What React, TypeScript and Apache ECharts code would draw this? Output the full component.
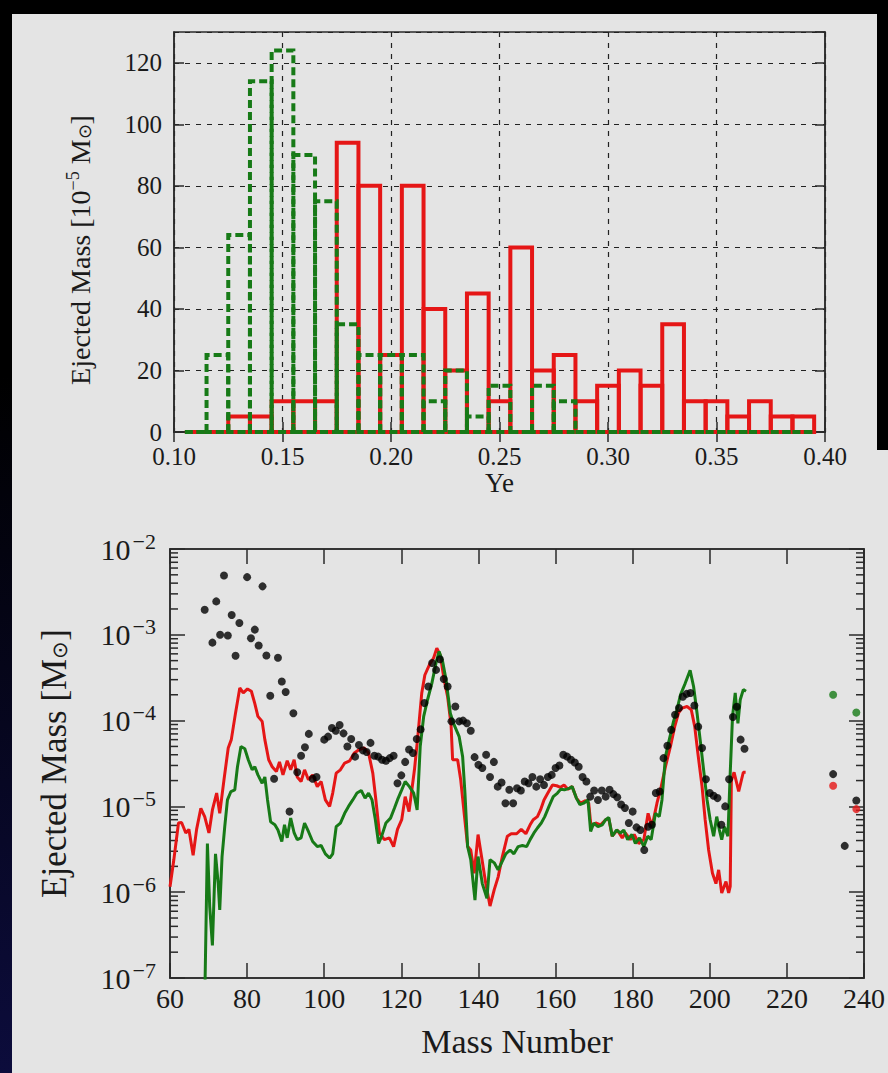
import React, { useEffect, useRef } from "react";
import * as echarts from "echarts";

// ---------- Top panel: ejected mass histogram vs Ye ----------
const yeBinCenters = [0.11, 0.12, 0.13, 0.14, 0.15, 0.16, 0.17, 0.18, 0.19, 0.2, 0.21, 0.22, 0.23, 0.24, 0.25, 0.26, 0.27, 0.28, 0.29, 0.3, 0.31, 0.32, 0.33, 0.34, 0.35, 0.36, 0.37, 0.38, 0.39];
const yeBinWidth = 0.01;
const redYeMass = [0, 0, 5, 5, 10, 10, 10, 94, 80, 25, 80, 40, 20, 45, 10, 60, 20, 25, 10, 15, 20, 15, 35, 10, 10, 5, 10, 5, 5];
const greenYeMass = [0, 25, 64, 114, 124, 90, 75, 35, 25, 25, 25, 10, 20, 5, 15, 0, 15, 10, 0, 0, 0, 0, 0, 0, 0, 0, 0, 0, 0];
const yeTicks = { min: 0.1, max: 0.4, interval: 0.05 };
const massTicks = { min: 0, max: 130, interval: 20 };

// ---------- Bottom panel: ejected mass vs mass number ----------
const redAbundance: [number, number][] = [
  [60, 1.16e-6], [61, 2.4e-6], [62.2, 6.4e-6], [63, 6.5e-6], [64.1, 4.9e-6], [64.9, 5.4e-6], [66, 2.7e-6], [66.9, 5.4e-6], [68, 9.5e-6], [69, 7.6e-6],
  [70.1, 4.9e-6], [71, 9.1e-6], [72.1, 1.43e-5], [72.9, 8.3e-6], [74, 2.04e-5], [75.1, 4.8e-5], [75.9, 6.0e-5], [77, 1.23e-4], [78.1, 2.4e-4], [79, 2.1e-4],
  [80.1, 2.34e-4], [81.1, 2.2e-4], [82, 1.58e-4], [82.8, 1.12e-4], [83.9, 9.8e-5], [84.6, 6.0e-5], [85.6, 3.5e-5], [86.5, 2.9e-5], [87.6, 2.55e-5], [88.4, 3.3e-5],
  [89.3, 2.33e-5], [90.4, 3.4e-5], [91.3, 2.67e-5], [92.2, 3.5e-5], [93, 2.2e-5], [94, 1.95e-5], [94.9, 2.67e-5], [95.9, 2.04e-5], [97, 2.33e-5], [98.2, 1.7e-5],
  [99.2, 1.95e-5], [100.3, 1.19e-5], [101.4, 1.0e-5], [102.2, 1.43e-5], [103.1, 2.44e-5], [104.2, 2.67e-5], [105.3, 3.2e-5], [106.6, 3.4e-5], [107.8, 4.2e-5], [109.1, 4.6e-5],
  [110.4, 4.8e-5], [111.5, 4.2e-5], [112.6, 2.44e-5], [113.4, 1.19e-5], [114.3, 4.9e-6], [115.6, 4.1e-6], [116.9, 4.3e-6], [118, 3.4e-6], [119, 5.4e-6], [120.1, 7.0e-6],
  [121, 1.3e-5], [122, 8.7e-6], [123.4, 2.67e-5], [124.2, 6.0e-5], [125.3, 2.1e-4], [126.1, 3.4e-4], [127.3, 4.5e-4], [128.4, 5.4e-4], [129.2, 7.0e-4], [130.1, 5.8e-4],
  [131.1, 3.0e-4], [132, 1.9e-4], [132.9, 8.9e-5], [133.3, 3.5e-5], [134.6, 3.5e-5], [135.4, 2.04e-5], [136.3, 8.3e-6], [137.2, 3.4e-6], [138, 3.1e-6], [138.9, 1.66e-6],
  [139.9, 4.7e-6], [140.8, 2.6e-6], [141.9, 1.26e-6], [143, 6.9e-7], [144.1, 1.07e-6], [145.1, 1.5e-6], [146.2, 2.6e-6], [147.5, 4.5e-6], [148.5, 4.8e-6], [149.9, 4.8e-6],
  [151.1, 5.4e-6], [152.3, 4.8e-6], [153.4, 6.1e-6], [154.2, 7.0e-6], [155.3, 7.6e-6], [156.1, 9.1e-6], [157, 1.19e-5], [158, 1.43e-5], [159.2, 1.78e-5], [160.3, 1.74e-5],
  [161.3, 1.67e-5], [162.2, 1.78e-5], [163.2, 1.58e-5], [164.3, 1.7e-5], [165.4, 1.25e-5], [166.5, 1.09e-5], [167.8, 1.17e-5], [168.6, 1.09e-5], [169.2, 5.75e-6], [170.4, 6.4e-6],
  [171.7, 6.1e-6], [173, 7.0e-6], [173.8, 7.2e-6], [174.7, 4.5e-6], [176, 5.3e-6], [177.3, 4.3e-6], [178.1, 4.9e-6], [179.4, 4.1e-6], [180.4, 4.7e-6], [181.6, 3.7e-6],
  [182.9, 4.1e-6], [184, 8.3e-6], [185, 5.8e-6], [186.3, 1.09e-5], [187.4, 1.7e-5], [188.5, 2.9e-5], [189.8, 5.0e-5], [190.9, 8.5e-5], [191.9, 1.23e-4], [192.8, 1.4e-4],
  [194.1, 1.46e-4], [195.2, 1.34e-4], [196.1, 8.5e-5], [196.9, 4.2e-5], [198, 1.7e-5], [198.8, 7.0e-6], [199.7, 3.1e-6], [200.7, 1.66e-6], [201.6, 1.26e-6], [202.3, 1.82e-6],
  [203.1, 9.8e-7], [204.2, 1.33e-6], [204.9, 9.8e-7], [205.3, 1.17e-6], [205.6, 2.0e-5], [206.3, 2.5e-5], [207.5, 1.5e-5], [208.7, 2.5e-5], [209.3, 2.5e-5],
];

const greenAbundance: [number, number][] = [
  [69, 5e-8], [69.7, 3.7e-6], [70.3, 6.8e-7], [71, 2.4e-7], [71.8, 2.8e-6], [72.5, 1.26e-6], [72.9, 6.2e-7], [73.5, 2.6e-6], [74.2, 5.8e-6], [74.9, 1.19e-5],
  [75.8, 1.49e-5], [76.8, 1.56e-5], [77.5, 2.9e-5], [78.4, 5.0e-5], [79.4, 4.7e-5], [80.3, 3.5e-5], [81.3, 2.67e-5], [82, 2.9e-5], [82.8, 2.33e-5], [83.9, 1.86e-5],
  [84.6, 2.2e-5], [85.3, 1.19e-5], [86.1, 6.6e-6], [87.2, 6.1e-6], [88, 5.3e-6], [89, 3.9e-6], [89.7, 6.1e-6], [90.4, 4.3e-6], [91.3, 7.3e-6], [92.2, 4.9e-6],
  [93, 4.1e-6], [94, 4.3e-6], [94.9, 6.4e-6], [95.9, 5.1e-6], [97, 3.9e-6], [98.2, 3.4e-6], [99.2, 3.5e-6], [100.3, 2.8e-6], [101.4, 2.5e-6], [102.2, 2.8e-6],
  [103.1, 5.8e-6], [104.2, 6.4e-6], [105.3, 8.3e-6], [106.3, 1.0e-5], [107.4, 1.19e-5], [108.5, 1.43e-5], [109.6, 1.53e-5], [110.6, 1.25e-5], [111.5, 1.43e-5], [112.4, 1.19e-5],
  [113.2, 7.3e-6], [114.1, 3.7e-6], [114.9, 4.5e-6], [116, 6.4e-6], [117.2, 7.3e-6], [118.2, 9.5e-6], [119, 1.19e-5], [120.1, 1.56e-5], [121, 1.95e-5], [122.1, 1.7e-5],
  [123.2, 1.43e-5], [124.1, 9.1e-6], [124.9, 5.0e-5], [125.8, 1.12e-4], [126.8, 1.75e-4], [127.9, 2.7e-4], [129, 4.7e-4], [129.8, 6.4e-4], [130.7, 4.9e-4], [131.6, 3.0e-4],
  [132.7, 1.22e-4], [133.7, 8.9e-5], [135, 6.5e-5], [135.9, 3.8e-5], [136.5, 1.43e-5], [137.2, 3.4e-6], [138, 2.4e-6], [139.1, 8.1e-7], [139.9, 2.6e-6], [141, 1.26e-6],
  [142.2, 8.5e-7], [143, 2.4e-6], [144.1, 2.2e-6], [145.1, 1.82e-6], [146.2, 2.3e-6], [147.1, 2.8e-6], [148.2, 3.1e-6], [149.2, 2.8e-6], [150.3, 3.4e-6], [151.4, 3.5e-6],
  [152.5, 3.4e-6], [153.4, 4.1e-6], [154.4, 4.9e-6], [155.3, 5.6e-6], [156.3, 6.4e-6], [157.2, 7.6e-6], [158.3, 1.0e-5], [159.4, 1.3e-5], [160.5, 1.43e-5], [161.3, 1.58e-5],
  [162.3, 1.56e-5], [163.5, 1.62e-5], [164.3, 1.7e-5], [165.4, 1.25e-5], [166.3, 1.05e-5], [167.3, 1.09e-5], [168.4, 1.19e-5], [169.1, 5.1e-6], [169.9, 6.4e-6], [171, 5.8e-6],
  [172.1, 6.1e-6], [173, 7.0e-6], [173.8, 7.4e-6], [174.7, 4.5e-6], [175.8, 5.3e-6], [176.8, 4.9e-6], [177.7, 5.3e-6], [178.7, 4.1e-6], [179.8, 4.7e-6], [180.7, 3.7e-6],
  [181.8, 4.3e-6], [182.9, 3.4e-6], [183.9, 4.5e-6], [184.8, 4.1e-6], [185.9, 8.3e-6], [186.9, 7.6e-6], [187.6, 1.19e-5], [188.5, 3.8e-5], [189.5, 6.0e-5], [190.6, 9.8e-5],
  [191.5, 1.34e-4], [192.4, 2.0e-4], [193.6, 2.7e-4], [194.9, 3.85e-4], [195.8, 2.5e-4], [196.7, 1.22e-4], [197.5, 6.0e-5], [198.4, 2.67e-5], [199.3, 1.19e-5], [200.1, 7.0e-6],
  [201, 4.5e-6], [201.8, 7.6e-6], [202.5, 5.3e-6], [203.1, 4.1e-6], [203.8, 5.8e-6], [204.7, 4.5e-6], [205.3, 2.44e-5], [205.9, 1.12e-4], [206.6, 2.1e-4], [207.3, 9.3e-5],
  [207.9, 1.75e-4], [208.7, 2.3e-4], [209.4, 2.2e-4],
];

const solarDots: [number, number][] = [
  [69, 1.96e-3], [71, 8.1e-4], [72, 2.45e-3], [73, 1.0e-3], [74, 4.9e-3], [75, 9.8e-4], [76, 1.7e-3], [77, 5.7e-4], [78, 1.37e-3], [80, 4.7e-3],
  [81, 9.1e-4], [82, 1.15e-3], [83, 7.5e-4], [84, 3.67e-3], [85, 5.75e-4], [86, 1.95e-4], [87, 2.1e-5], [88, 5.4e-4], [89, 2.86e-4], [90, 2.15e-4],
  [91, 8.7e-6], [92, 1.22e-4], [93, 2.5e-5], [94, 3.9e-5], [95, 4.9e-5], [96, 7.0e-5], [97, 2.1e-5], [98, 2.2e-5], [100, 6.0e-5], [101, 6.5e-5],
  [102, 8.2e-5], [103, 7.6e-5], [104, 8.9e-5], [105, 7.1e-5], [106, 5.0e-5], [107, 6.1e-5], [108, 3.8e-5], [109, 5.2e-5], [110, 4.5e-5], [111, 4.3e-5],
  [112, 5.5e-5], [113, 3.9e-5], [114, 3.8e-5], [115, 3.5e-5], [116, 3.4e-5], [117, 3.65e-5], [118, 3.9e-5], [119, 1.86e-5], [120, 2.3e-5], [121, 3.3e-5],
  [122, 4.6e-5], [123, 4.2e-5], [124, 6.1e-5], [125, 7.9e-5], [126, 1.6e-4], [127, 2.5e-4], [128, 4.7e-4], [129, 3.9e-4], [130, 5.2e-4], [131, 3.05e-4],
  [132, 2.5e-4], [133, 9.8e-5], [134, 1.46e-4], [135, 9.8e-5], [136, 1.0e-4], [137, 9.3e-5], [138, 7.6e-5], [139, 3.75e-5], [140, 3.05e-5], [141, 2.8e-5],
  [142, 4.0e-5], [143, 2.2e-5], [144, 3.3e-5], [145, 1.7e-5], [146, 1.9e-5], [147, 1.09e-5], [148, 1.56e-5], [149, 1.09e-5], [150, 1.63e-5], [151, 1.53e-5],
  [152, 1.95e-5], [153, 1.86e-5], [154, 2.2e-5], [155, 1.7e-5], [156, 2.07e-5], [157, 1.78e-5], [158, 2.2e-5], [159, 2.33e-5], [160, 2.8e-5], [161, 3.0e-5],
  [162, 4.0e-5], [163, 3.8e-5], [164, 3.5e-5], [165, 3.25e-5], [166, 2.9e-5], [167, 2.2e-5], [168, 1.95e-5], [169, 1.3e-5], [170, 1.53e-5], [171, 1.19e-5],
  [172, 1.53e-5], [173, 1.3e-5], [174, 1.56e-5], [175, 1.39e-5], [176, 1.28e-5], [177, 1.05e-5], [178, 9.6e-6], [179, 6.4e-6], [180, 8.7e-6], [181, 5.7e-6],
  [182, 5.3e-6], [183, 3.1e-6], [184, 5.8e-6], [185, 6.1e-6], [186, 1.43e-5], [187, 1.49e-5], [188, 3.65e-5], [189, 5.1e-5], [190, 7.8e-5], [191, 1.17e-4],
  [192, 1.4e-4], [193, 1.9e-4], [194, 2.05e-4], [195, 2.1e-4], [196, 1.5e-4], [197, 8.5e-5], [198, 4.8e-5], [199, 2.07e-5], [200, 1.43e-5], [201, 1.33e-5],
  [202, 1.25e-5], [203, 6.1e-6], [204, 1.0e-5], [205, 2.07e-5], [206, 1.1e-4], [207, 1.45e-4], [208, 6.0e-5], [209, 4.7e-5],
  [232, 2.38e-5], [235, 3.47e-6], [238, 1.17e-5],
];
const greenIsolated: [number, number][] = [[232, 2.0e-4], [238, 1.24e-4]];
const redIsolated: [number, number][] = [[232, 1.74e-5], [238, 9.3e-6]];

const massNumberTicks = { min: 60, max: 240, interval: 20 };
const logMassRange = { min: 1e-7, max: 1e-2 };
const logDecades = [-7, -6, -5, -4, -3];
const minorMultipliers = [2, 3, 4, 5, 6, 7, 8, 9];

const RED = "#e51616";
const GREEN = "#177a17";
const FONT = "Liberation Serif";
const TXT = "#1a1a1a";

export default function App() {
  const ref = useRef<HTMLDivElement>(null);

  useEffect(() => {
    if (!ref.current) return;
    const chart = echarts.init(ref.current, null, { renderer: "svg" });

    const histData = (vals: number[]) => yeBinCenters.map((c, i) => [c, vals[i]]);
    const barRenderer = (stroke: string, dash: number[] | null, width: number) =>
      (params: any, api: any) => {
        const c = api.value(0);
        const v = api.value(1);
        const p0 = api.coord([c - yeBinWidth / 2, 0]);
        const p1 = api.coord([c + yeBinWidth / 2, v]);
        return {
          type: "polygon",
          shape: { points: [[p0[0], p0[1]], [p0[0], p1[1]], [p1[0], p1[1]], [p1[0], p0[1]]] },
          style: { fill: "none", stroke, lineWidth: width, lineDash: dash || undefined },
        };
      };

    const minorTickValues: number[] = [];
    logDecades.forEach((d) => minorMultipliers.forEach((m) => minorTickValues.push(m * Math.pow(10, d))));

    const sup = { fontSize: 22, fontFamily: FONT, color: TXT, padding: [0, 0, 16, 2] };
    const sub = { fontSize: 21, fontFamily: FONT, color: TXT, padding: [10, 0, 0, 0] };

    const axisLineStyle = { lineStyle: { color: "#2a2a2a", width: 1.5 } };
    const gridDash = { show: true, lineStyle: { color: "#222", type: [5, 6], width: 1.2 } };

    chart.setOption({
      animation: false,
      backgroundColor: "transparent",
      grid: [
        { left: 174, top: 32, width: 651, height: 400, show: true, borderColor: "#2a2a2a", borderWidth: 1.5, backgroundColor: "transparent" },
        { left: 170, top: 549, width: 696, height: 429, show: true, borderColor: "#2a2a2a", borderWidth: 1.5, backgroundColor: "transparent" },
      ],
      xAxis: [
        {
          gridIndex: 0, type: "value", ...yeTicks, position: "bottom",
          axisLine: axisLineStyle, axisTick: { inside: true, length: 10, lineStyle: { color: "#2a2a2a", width: 1.5 } },
          axisLabel: { fontFamily: FONT, fontSize: 25, color: TXT, margin: 13, lineHeight: 22, formatter: (v: number) => v.toFixed(2) },
          splitLine: gridDash,
          name: "Ye", nameLocation: "middle", nameGap: 17,
          nameTextStyle: { fontFamily: FONT, fontSize: 27, color: TXT },
        },
        {
          gridIndex: 0, type: "value", ...yeTicks, position: "top",
          axisLine: axisLineStyle, axisTick: { inside: true, length: 10, lineStyle: { color: "#2a2a2a", width: 1.5 } },
          axisLabel: { show: false }, splitLine: { show: false },
        },
        {
          gridIndex: 1, type: "value", ...massNumberTicks, position: "bottom",
          axisLine: axisLineStyle, axisTick: { inside: true, length: 15, lineStyle: { color: "#2a2a2a", width: 1.5 } },
          axisLabel: { fontFamily: FONT, fontSize: 28, color: TXT, margin: 6 },
          splitLine: { show: false },
          name: "Mass Number", nameLocation: "middle", nameGap: 46,
          nameTextStyle: { fontFamily: FONT, fontSize: 34, color: TXT },
        },
        {
          gridIndex: 1, type: "value", ...massNumberTicks, position: "top",
          axisLine: axisLineStyle, axisTick: { inside: true, length: 15, lineStyle: { color: "#2a2a2a", width: 1.5 } },
          axisLabel: { show: false }, splitLine: { show: false },
        },
      ],
      yAxis: [
        {
          gridIndex: 0, type: "value", ...massTicks, position: "left",
          axisLine: axisLineStyle, axisTick: { inside: true, length: 10, lineStyle: { color: "#2a2a2a", width: 1.5 } },
          axisLabel: { fontFamily: FONT, fontSize: 25, color: TXT, margin: 12, lineHeight: 20, showMaxLabel: false },
          splitLine: gridDash,
          name: "Ejected Mass [10{sup|−5} M{sub|⊙}]", nameLocation: "middle", nameGap: 78, nameRotate: 90,
          nameTextStyle: {
            fontFamily: FONT, fontSize: 28, color: TXT, padding: [0, 36, 0, 0],
            rich: { sup: { ...sup, fontSize: 18, padding: [0, 0, 14, 0] }, sub: { ...sub, fontSize: 18 } },
          },
        },
        {
          gridIndex: 0, type: "value", ...massTicks, position: "right",
          axisLine: axisLineStyle, axisTick: { inside: true, length: 10, lineStyle: { color: "#2a2a2a", width: 1.5 } },
          axisLabel: { show: false }, splitLine: { show: false },
        },
        {
          gridIndex: 1, type: "log", logBase: 10, ...logMassRange, splitNumber: 5, position: "left",
          axisLine: axisLineStyle, axisTick: { inside: true, length: 15, lineStyle: { color: "#2a2a2a", width: 1.5 } },
          axisLabel: {
            fontFamily: FONT, fontSize: 30, color: TXT, margin: 14,
            formatter: (v: number) => "10{sup|−" + Math.round(-Math.log10(v)) + "}",
            rich: { sup },
          },
          splitLine: { show: false },
          name: "Ejected Mass [M{sub|⊙}]", nameLocation: "middle", nameGap: 98, nameRotate: 90,
          nameTextStyle: { fontFamily: FONT, fontSize: 35, color: TXT, rich: { sub } },
        },
        {
          gridIndex: 1, type: "log", logBase: 10, ...logMassRange, splitNumber: 5, position: "right",
          axisLine: axisLineStyle, axisTick: { inside: true, length: 15, lineStyle: { color: "#2a2a2a", width: 1.5 } },
          axisLabel: { show: false }, splitLine: { show: false },
        },
      ],
      series: [
        {
          type: "custom", xAxisIndex: 0, yAxisIndex: 0, data: histData(redYeMass),
          encode: { x: 0, y: 1 }, renderItem: barRenderer(RED, null, 4), silent: true, z: 3,
        },
        {
          type: "custom", xAxisIndex: 0, yAxisIndex: 0, data: histData(greenYeMass),
          encode: { x: 0, y: 1 }, renderItem: barRenderer(GREEN, [8, 4], 4), silent: true, z: 4,
        },
        {
          type: "custom", xAxisIndex: 2, yAxisIndex: 2, data: minorTickValues.map((v) => [massNumberTicks.min, v]),
          encode: { x: 0, y: 1 }, silent: true, z: 2,
          renderItem: (params: any, api: any) => {
            const v = api.value(1);
            const l = api.coord([massNumberTicks.min, v]);
            const r = api.coord([massNumberTicks.max, v]);
            const st = { stroke: "#2a2a2a", lineWidth: 1.5 };
            return {
              type: "group",
              children: [
                { type: "line", shape: { x1: l[0], y1: l[1], x2: l[0] + 8, y2: l[1] }, style: st },
                { type: "line", shape: { x1: r[0], y1: r[1], x2: r[0] - 8, y2: r[1] }, style: st },
              ],
            };
          },
        },
        {
          type: "line", xAxisIndex: 2, yAxisIndex: 2, data: redAbundance, showSymbol: false,
          lineStyle: { color: RED, width: 3 }, itemStyle: { color: RED }, z: 3,
        },
        {
          type: "line", xAxisIndex: 2, yAxisIndex: 2, data: greenAbundance, showSymbol: false,
          lineStyle: { color: GREEN, width: 3 }, itemStyle: { color: GREEN }, z: 4,
        },
        {
          type: "scatter", xAxisIndex: 2, yAxisIndex: 2, data: solarDots, symbolSize: 8,
          itemStyle: { color: "#000" }, z: 5,
        },
        {
          type: "scatter", xAxisIndex: 2, yAxisIndex: 2, data: greenIsolated, symbolSize: 8,
          itemStyle: { color: GREEN }, z: 5,
        },
        {
          type: "scatter", xAxisIndex: 2, yAxisIndex: 2, data: redIsolated, symbolSize: 8,
          itemStyle: { color: RED }, z: 5,
        },
      ],
    });

    return () => chart.dispose();
  }, []);

  return (
    <div style={{ position: "fixed", left: 0, top: 0, width: 888, height: 1073, background: "linear-gradient(to bottom, #000 0%, #000 35%, #0c0c3c 100%)", overflow: "hidden" }}>
      <div style={{ position: "absolute", left: 12, top: 14, width: 876, height: 1059, background: "#e4e4e4" }} />
      <div style={{ position: "absolute", left: 877, top: 0, width: 11, height: 450, background: "#000" }} />
      <div ref={ref} style={{ position: "absolute", left: 0, top: 0, width: 888, height: 1073 }} />
    </div>
  );
}
